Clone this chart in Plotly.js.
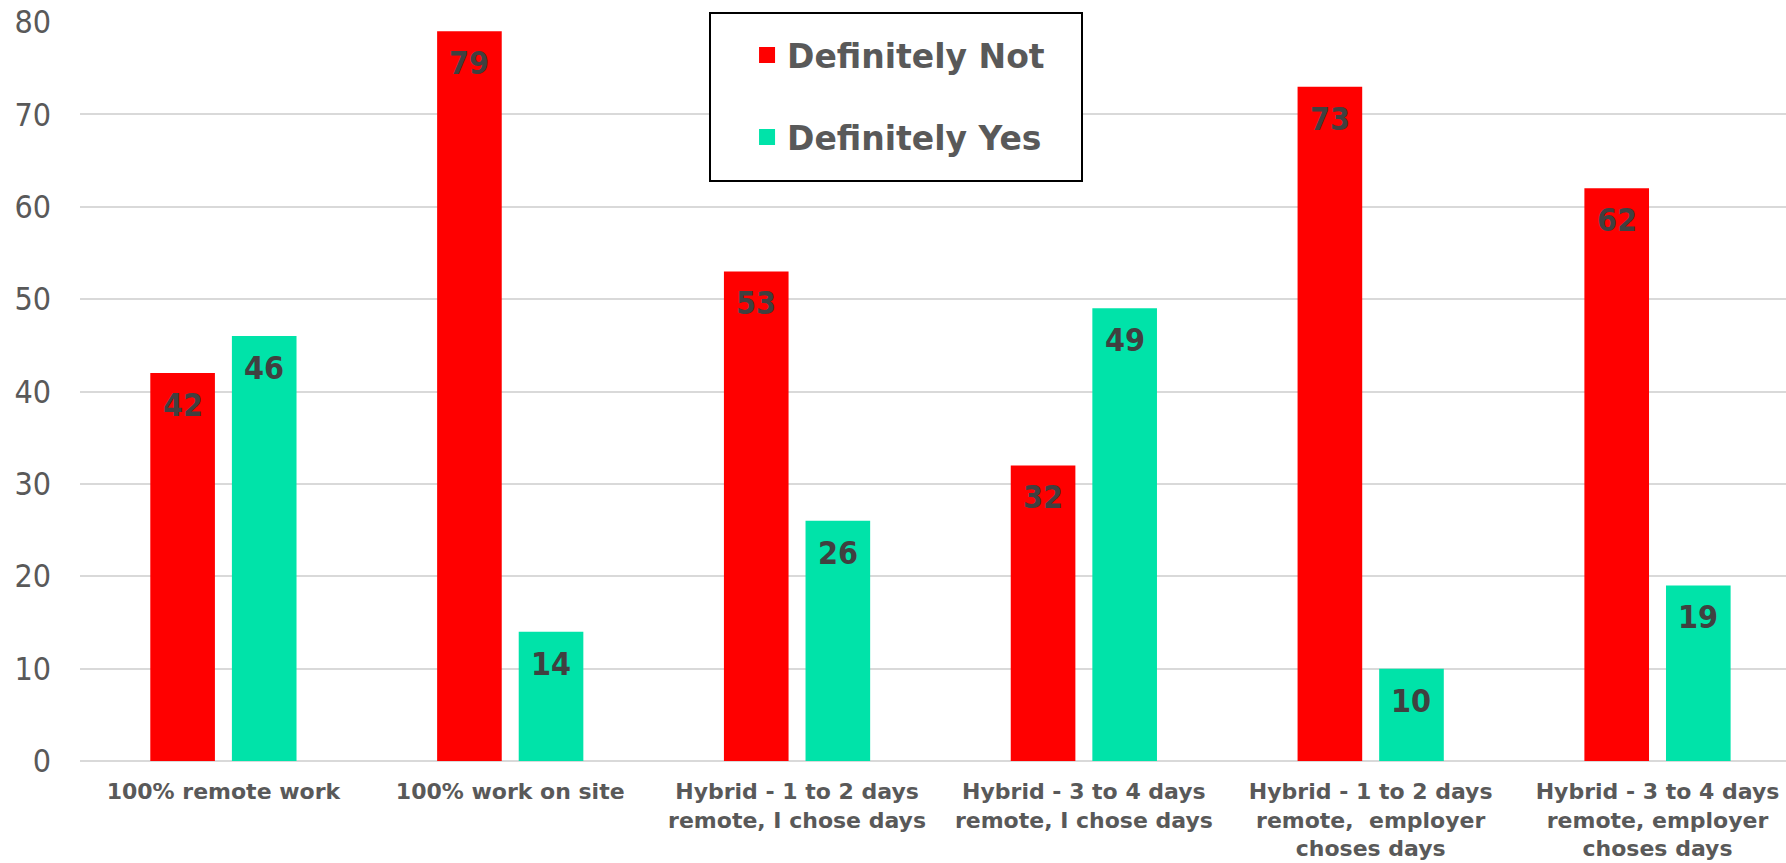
<!DOCTYPE html>
<html>
<head>
<meta charset="utf-8">
<script src="https://cdn.plot.ly/plotly-3.0.1.min.js"></script>
<style>
  html, body { margin: 0; padding: 0; background: #ffffff; }
  #chart { width: 1786px; height: 863px; }
</style>
</head>
<body>
<div id="chart"></div>
<script>
// Work arrangement options (x categories)
const categories = [
  "100% remote work",
  "100% work on site",
  "Hybrid - 1 to 2 days<br>remote, I chose days",
  "Hybrid - 3 to 4 days<br>remote, I chose days",
  "Hybrid - 1 to 2 days<br>remote,  employer<br>choses days",
  "Hybrid - 3 to 4 days<br>remote, employer<br>choses days"
];

// Responses per option
const seriesNames = ["Definitely Not", "Definitely Yes"];
const definitelyNot = [42, 79, 53, 32, 73, 62];
const definitelyYes = [46, 14, 26, 49, 10, 19];

// Y axis ticks
const yTicks = [0, 10, 20, 30, 40, 50, 60, 70, 80];

const RED = "#FF0000";
const GREEN = "#00E3A9";
const AXIS_TEXT = "#595959";
const LABEL_TEXT = "#404040";
const COND = "'DejaVu Sans Condensed', 'DejaVu Sans', sans-serif";
const SANS = "'DejaVu Sans', sans-serif";

const seriesList = [
  { name: seriesNames[0], values: definitelyNot, color: RED, side: -1 },
  { name: seriesNames[1], values: definitelyYes, color: GREEN, side: 1 }
];

const traces = [];
seriesList.forEach(function (s) {
  traces.push({
    type: "bar",
    x: categories,
    y: s.values,
    name: s.name,
    marker: { color: s.color },
    showlegend: false,
    hoverinfo: "x+y"
  });
});
// Legend entries with larger square swatches
seriesList.forEach(function (s, i) {
  traces.push({
    type: "scatter",
    mode: "markers",
    x: [null],
    y: [null],
    name: s.name,
    legendgroup: "g" + i,
    marker: { symbol: "square", size: 21, color: s.color },
    showlegend: true
  });
});

// Value labels inside the top of each bar
const annotations = [];
seriesList.forEach(function (s) {
  s.values.forEach(function (v, i) {
    annotations.push({
      x: categories[i],
      y: v,
      xref: "x",
      yref: "y",
      text: String(v),
      showarrow: false,
      xanchor: "center",
      yanchor: "middle",
      xshift: s.side * 40.8,
      yshift: -32,
      font: { family: COND, size: 32, color: LABEL_TEXT, weight: 700 }
    });
  });
});

const layout = {
  width: 1786,
  height: 863,
  margin: { l: 80, r: 0, t: 22, b: 102, pad: 0 },
  paper_bgcolor: "#ffffff",
  plot_bgcolor: "#ffffff",
  barmode: "group",
  bargap: 0.431,
  bargroupgap: 0.208,
  showlegend: true,
  legend: {
    orientation: "v",
    x: 0.391,
    xanchor: "left",
    xref: "paper",
    y: 0.993,
    yanchor: "top",
    yref: "paper",
    bgcolor: "rgba(0,0,0,0)",
    borderwidth: 0,
    traceorder: "grouped",
    tracegroupgap: 36,
    font: { family: SANS, size: 33, color: AXIS_TEXT, weight: 700 }
  },
  xaxis: {
    type: "category",
    categoryorder: "array",
    categoryarray: categories,
    range: [-0.5, 5.448],
    showgrid: false,
    showline: false,
    zeroline: false,
    ticks: "",
    ticklabelstandoff: 15,
    automargin: false,
    tickfont: { family: SANS, size: 22, color: AXIS_TEXT, weight: 700 },
    fixedrange: true
  },
  yaxis: {
    range: [0, 80],
    tickvals: yTicks,
    ticktext: yTicks.map(String),
    showgrid: true,
    gridcolor: "#D9D9D9",
    gridwidth: 2,
    zeroline: true,
    zerolinecolor: "#D9D9D9",
    zerolinewidth: 2,
    showline: false,
    ticks: "",
    ticklabelstandoff: 28,
    automargin: false,
    tickfont: { family: COND, size: 32, color: AXIS_TEXT },
    fixedrange: true
  },
  shapes: [{
    type: "rect",
    xref: "paper",
    yref: "paper",
    x0: (710 - 80) / 1706,
    x1: (1082 - 80) / 1706,
    y0: (761 - 181) / 739,
    y1: (761 - 13) / 739,
    fillcolor: "#ffffff",
    line: { color: "#000000", width: 2 },
    layer: "above"
  }],
  annotations: annotations
};

Plotly.newPlot("chart", traces, layout, { displayModeBar: false, staticPlot: true });
</script>
</body>
</html>
